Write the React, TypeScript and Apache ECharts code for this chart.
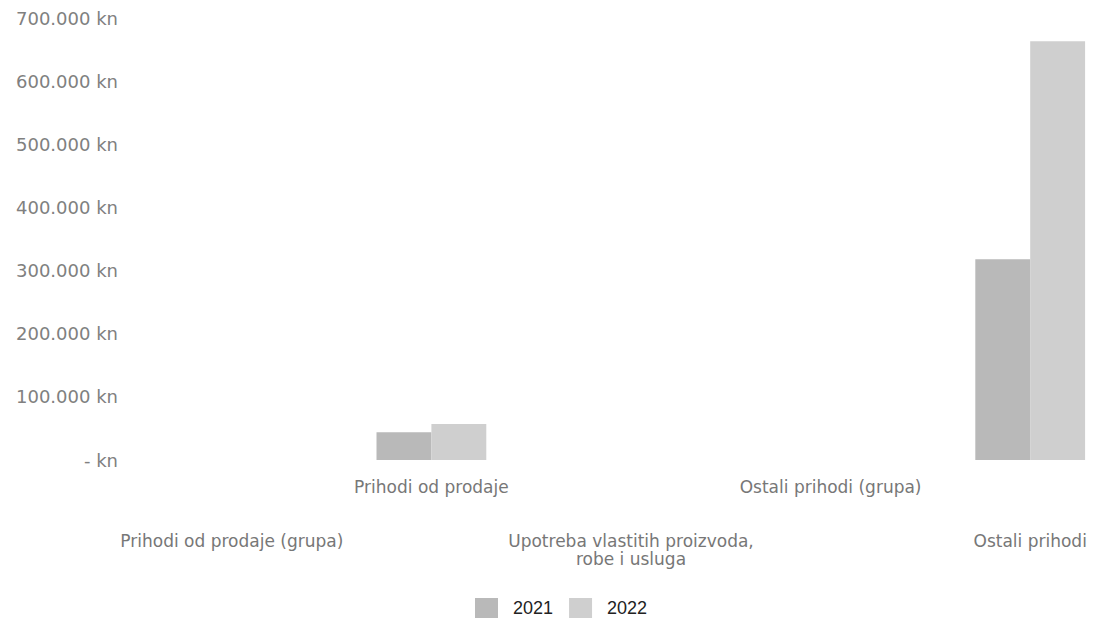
import React, { useEffect, useRef } from "react";
import * as echarts from "echarts";

const categories = [
  "Prihodi od prodaje (grupa)",
  "Prihodi od prodaje",
  "Upotreba vlastitih proizvoda,\nrobe i usluga",
  "Ostali prihodi (grupa)",
  "Ostali prihodi",
];
const seriesNames = ["2021", "2022"];
const values2021 = [0, 44000, 0, 0, 318000];
const values2022 = [0, 57000, 0, 0, 663000];
const colors = ["#b9b9b9", "#cfcfcf"];

function fmtKn(v: number): string {
  if (v === 0) return "- kn";
  const s = Math.round(v).toString();
  return s.replace(/\B(?=(\d{3})+(?!\d))/g, ".") + " kn";
}

export default function App() {
  const ref = useRef<HTMLDivElement>(null);
  useEffect(() => {
    if (!ref.current) return;
    const chart = echarts.init(ref.current, null, { renderer: "svg" });
    const font = "'DejaVu Sans', sans-serif";
    chart.setOption({
      animation: false,
      backgroundColor: "#ffffff",
      grid: { left: 132, right: 0, top: 18, bottom: 166, containLabel: false },
      legend: {
        top: 593,
        left: 470,
        itemWidth: 23,
        itemHeight: 20,
        itemGap: 16,
        icon: "rect",
        textStyle: {
          fontFamily: "'Liberation Sans', Arial, sans-serif",
          fontSize: 18,
          color: "#222",
          padding: [0, 0, 0, 10],
        },
        data: seriesNames,
      },
      xAxis: {
        type: "category",
        data: categories,
        axisLine: { show: false },
        axisTick: { show: false },
        axisLabel: {
          interval: 0,
          margin: 18,
          color: "#777",
          fontFamily: font,
          fontSize: 17,
          lineHeight: 18,
          formatter: (value: string, index: number) =>
            index % 2 === 1 ? value : "\n\n\n" + value,
        },
      },
      yAxis: {
        type: "value",
        min: 0,
        max: 700000,
        interval: 100000,
        axisLine: { show: false },
        axisTick: { show: false },
        splitLine: { show: false },
        axisLabel: {
          margin: 14,
          color: "#808080",
          fontFamily: font,
          fontSize: 18,
          formatter: (v: number) => fmtKn(v),
        },
      },
      series: [
        {
          name: seriesNames[0],
          type: "bar",
          data: values2021,
          barGap: "0%",
          barCategoryGap: "45%",
          itemStyle: { color: colors[0] },
        },
        {
          name: seriesNames[1],
          type: "bar",
          data: values2022,
          barGap: "0%",
          barCategoryGap: "45%",
          itemStyle: { color: colors[1] },
        },
      ],
    });
    return () => chart.dispose();
  }, []);
  return (
    <div
      style={{
        position: "fixed",
        left: 0,
        top: 0,
        width: 1097,
        height: 626,
        overflow: "hidden",
        background: "#fff",
      }}
    >
      <div ref={ref} style={{ width: 1130, height: 626 }} />
    </div>
  );
}
